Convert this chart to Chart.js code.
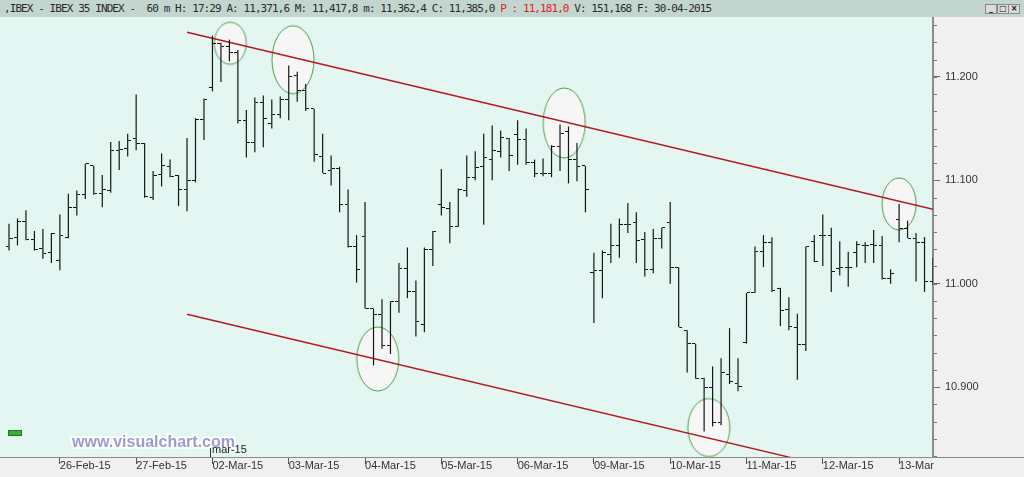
<!DOCTYPE html>
<html>
<head>
<meta charset="utf-8">
<script src="https://cdn.jsdelivr.net/npm/chart.js@4.4.1/dist/chart.umd.min.js"></script>
<style>
html, body { margin: 0; padding: 0; background: #f0f0f0; }
#wrap { position: relative; width: 1024px; height: 477px; overflow: hidden; }
#head { position: absolute; left: 0; top: 0; width: 1024px; height: 17px; background: #c2d5cf;
  font: 11px "DejaVu Sans Mono", monospace; letter-spacing: -0.92px; color: #2a2a2a; line-height: 17px; white-space: pre; }
#head .t { position: absolute; left: 4px; top: 0; }
#head .p { color: #e02020; }
.btn { position: absolute; top: 4px; width: 10px; height: 8px; border: 1px solid #8a8a8a; background: #dcdcdc;
  font: bold 8px/8px "DejaVu Sans", sans-serif; text-align: center; color: #111; letter-spacing: 0; }
#chart { position: absolute; left: 0; top: 17px; }
</style>
</head>
<body>
<div id="wrap">
  <div id="head"><span class="t">,IBEX - IBEX 35 INDEX -  60 m H: 17:29 A: 11,371,6 M: 11,417,8 m: 11,362,4 C: 11,385,0 <span class="p">P : 11,181,0</span> V: 151,168 F: 30-04-2015</span>
    <div class="btn" style="left:985px">_</div>
    <div class="btn" style="left:997px">□</div>
    <div class="btn" style="left:1008px">×</div>
  </div>
  <canvas id="chart" width="1024" height="460"></canvas>
</div>
<script>
// hourly bars, 25-Feb (last 6 hours) to 13-Mar (first 5 hours)
var opens  = [11036,11045,11060,11043,11034,11030,11022,11045,11074,11086,
              11114,11087,11090,11129,11131,11140,11136,11083,11106,11113,
              11105,11091,11100,11159,11190,11232,11229,11224,11158,11137,
              11175,11155,11164,11178,11201,11187,11169,11123,11109,11111,
              11077,11036,11046,10976,10970,10940,10983,11015,10992,10961,
              11033,11077,11073,11055,11090,11103,11113,11120,11128,11140,
              11144,11139,11117,11107,11107,11133,11147,11120,11114,11011,
              11013,11028,11037,11057,11059,11043,11014,11044,11059,11016,
              10955,10942,10908,10900,10866,10912,10903,10943,10991,11031,
              11040,10995,10975,10958,10941,11041,11047,11047,11015,11016,
              11030,11037,11038,11037,11005,11062,11053,11044,11040,11002];
var highs  = [11058,11063,11071,11051,11053,11049,11067,11087,11090,11116,
              11114,11105,11137,11138,11145,11183,11136,11109,11126,11120,
              11105,11141,11160,11179,11240,11233,11236,11226,11168,11180,
              11182,11178,11181,11211,11205,11193,11169,11145,11124,11113,
              11091,11047,11079,10976,10985,10983,11020,11035,11003,11035,
              11051,11111,11079,11092,11124,11128,11145,11153,11148,11141,
              11158,11150,11120,11121,11134,11154,11152,11136,11114,11030,
              11032,11058,11063,11078,11069,11050,11053,11054,11079,11016,
              10955,10942,10909,10920,10928,10957,10928,10991,11036,11047,
              11045,10996,10987,10971,11036,11047,11067,11054,11041,11031,
              11041,11040,11052,11046,11014,11077,11061,11049,11045,11025];
var lows   = [11032,11037,11042,11032,11024,11020,11013,11044,11066,11082,
              11086,11074,11088,11110,11123,11129,11083,11081,11094,11103,
              11075,11070,11098,11139,11186,11195,11215,11155,11122,11127,
              11132,11150,11160,11158,11176,11167,11118,11107,11095,11069,
              11035,11001,10976,10921,10937,10932,10972,10986,10949,10953,
              11017,11066,11039,11055,11084,11100,11057,11100,11122,11109,
              11115,11115,11103,11104,11103,11109,11097,11099,11069,10962,
              10986,11020,11025,11049,11020,11007,11010,11034,11000,10958,
              10914,10908,10857,10862,10863,10903,10896,10942,10991,11016,
              10992,10959,10955,10907,10935,11021,11017,10992,11008,10997,
              11016,11020,11020,11004,11000,11040,11044,11002,10992,10999];
var closes = [11044,11060,11043,11033,11029,11049,11047,11074,11086,11116,
              11087,11091,11129,11130,11138,11136,11084,11105,11114,11104,
              11091,11100,11159,11178,11232,11229,11224,11158,11137,11175,
              11160,11164,11178,11200,11187,11169,11125,11107,11111,11077,
              11036,11014,10976,10970,10940,10983,11015,10992,10963,11033,
              11050,11074,11055,11091,11103,11112,11122,11129,11141,11124,
              11139,11117,11107,11107,11133,11145,11120,11113,11091,11013,
              11030,11037,11057,11057,11042,11014,11044,11054,11016,10958,
              10942,10908,10900,10866,10914,10905,10901,10991,11031,11040,
              10993,10974,10959,10941,11036,11021,11047,11012,11016,11016,
              11038,11037,11037,11005,11010,11053,11044,11040,11002,11000];

var dayLabels = ['26-Feb-15','27-Feb-15','02-Mar-15','03-Mar-15','04-Mar-15','05-Mar-15',
                 '06-Mar-15','09-Mar-15','10-Mar-15','11-Mar-15','12-Mar-15','13-Mar-15'];
var dayStart  = [6,15,24,33,42,51,60,69,78,87,96,105];
var yTicks    = [10900,11000,11100,11200];
var monthMark = { label: 'mar-15', at: 24 };

// drawn channel lines and highlight ellipses, in bar index / price
var upperLine = [[21,11243.1],[109,11071.9]];
var lowerLine = [[21,10970.4],[109,10799.2]];
var marks     = [[26.1,11232.5],[33.5,11216.6],[43.5,10927.2],[65.5,11155.4],[82.55,10860.9],[105.0,11077.1]];
var markSize  = [[16,21],[21,34],[21,32],[21,35],[21,29],[17,26]];

function tickImg(left) {
  var c = document.createElement('canvas');
  c.width = 7; c.height = 1;
  var g = c.getContext('2d');
  g.fillStyle = '#111';
  g.fillRect(left ? 0 : 4, 0, 3, 1);
  return c;
}
function ellImg(rx, ry) {
  var c = document.createElement('canvas');
  c.width = 2 * rx + 4; c.height = 2 * ry + 4;
  var g = c.getContext('2d');
  g.beginPath();
  g.ellipse(c.width / 2, c.height / 2, rx, ry, 0, 0, Math.PI * 2);
  g.fillStyle = '#f6f6f6'; g.fill();
  g.strokeStyle = '#4e9e4e'; g.lineWidth = 1; g.stroke();
  return c;
}
var openImg = tickImg(true), closeImg = tickImg(false);
var ellImgs = markSize.map(function (s) { return ellImg(s[0], s[1]); });

var FONT = { family: 'Liberation Sans', size: 11 };

function noPad(s) {
  s.paddingTop = 0; s.paddingBottom = 0; s.paddingLeft = 0; s.paddingRight = 0;
}

var decor = {
  id: 'decor',
  beforeDraw: function (c) {
    var ctx = c.ctx, a = c.chartArea;
    ctx.save();
    ctx.fillStyle = '#f0f0f0';
    ctx.fillRect(0, 0, c.width, c.height);
    ctx.fillStyle = '#e3f6f1';
    ctx.fillRect(a.left, a.top, a.right - a.left, a.bottom - a.top);
    ctx.restore();
  },
  afterDatasetsDraw: function (c) {
    var ctx = c.ctx, a = c.chartArea;
    ctx.save();
    // small green tag
    ctx.fillStyle = '#2fb52f';
    ctx.fillRect(8.5, 413.5, 13, 5);
    ctx.strokeStyle = '#1b7a1b'; ctx.lineWidth = 1;
    ctx.strokeRect(8.5, 413.5, 13, 5);
    // watermark
    ctx.font = 'bold 16px "Liberation Sans", sans-serif';
    ctx.textBaseline = 'alphabetic';
    ctx.lineJoin = 'round';
    ctx.strokeStyle = '#ffffff'; ctx.lineWidth = 4;
    ctx.strokeText('www.visualchart.com', 72, 430);
    ctx.fillStyle = '#9c9cd2';
    ctx.fillText('www.visualchart.com', 72, 430);
    // month marker
    var mx = Math.round(c.scales.x.getPixelForValue(monthMark.at)) - 1.5;
    ctx.strokeStyle = '#333'; ctx.lineWidth = 1;
    ctx.beginPath(); ctx.moveTo(mx, 431); ctx.lineTo(mx, a.bottom); ctx.stroke();
    ctx.font = '11px "Liberation Sans", sans-serif';
    ctx.fillStyle = '#222';
    ctx.fillText(monthMark.label, mx + 1.5, 436);
    ctx.restore();
  },
  afterDraw: function (c) {
    var ctx = c.ctx, a = c.chartArea, y = c.scales.y;
    ctx.save();
    ctx.fillStyle = '#f0f0f0';
    ctx.fillRect(a.right + 1, a.bottom + 1, c.width - a.right, c.height - a.bottom);
    ctx.strokeStyle = '#8c8c8c'; ctx.lineWidth = 1;
    ctx.beginPath(); ctx.moveTo(0, a.bottom + 0.5); ctx.lineTo(c.width, a.bottom + 0.5); ctx.stroke();
    // minor ticks on the price axis
    ctx.strokeStyle = '#777';
    var step = 100 / 6;
    for (var v = Math.ceil(y.min / step) * step; v <= y.max; v += step) {
      var py = Math.round(y.getPixelForValue(v)) + 0.5;
      ctx.beginPath(); ctx.moveTo(a.right + 1, py); ctx.lineTo(a.right + 4, py); ctx.stroke();
    }
    ctx.restore();
  }
};

new Chart(document.getElementById('chart'), {
  type: 'bar',
  data: {
    datasets: [
      { type: 'bar', order: 1, clip: 0,
        data: highs.map(function (h, k) { return { x: k, y: [lows[k], h] }; }),
        backgroundColor: '#151515', borderWidth: 0, barThickness: 1.2, inflateAmount: 0 },
      { type: 'scatter', order: 1, clip: 0,
        data: opens.map(function (v, k) { return { x: k, y: v }; }),
        pointStyle: openImg, pointRadius: 3 },
      { type: 'scatter', order: 1, clip: 0,
        data: closes.map(function (v, k) { return { x: k, y: v }; }),
        pointStyle: closeImg, pointRadius: 3 },
      { type: 'line', order: 2, clip: 0,
        data: upperLine.map(function (p) { return { x: p[0], y: p[1] }; }),
        borderColor: '#b3191f', borderWidth: 1.4, pointRadius: 0 },
      { type: 'line', order: 2, clip: 0,
        data: lowerLine.map(function (p) { return { x: p[0], y: p[1] }; }),
        borderColor: '#b3191f', borderWidth: 1.4, pointRadius: 0 },
      { type: 'scatter', order: 3, clip: 0,
        data: marks.map(function (p) { return { x: p[0], y: p[1] }; }),
        pointStyle: function (ctx) { return ellImgs[ctx.dataIndex]; }, pointRadius: 20 }
    ]
  },
  options: {
    responsive: false,
    animation: false,
    events: [],
    layout: { padding: 0, autoPadding: false },
    plugins: { legend: { display: false }, tooltip: { enabled: false } },
    scales: {
      x: {
        type: 'linear', min: -1.062, max: 109, offset: false,
        afterBuildTicks: function (s) { s.ticks = dayStart.map(function (v) { return { value: v }; }); },
        afterFit: function (s) { s.height = 20; noPad(s); },
        ticks: { callback: function (v, i) { return dayLabels[i]; }, align: 'start', autoSkip: false,
                 maxRotation: 0, padding: -5, font: FONT, color: '#333' },
        grid: { drawOnChartArea: false, offset: false, tickLength: 7, color: '#555' },
        border: { color: '#8c8c8c', width: 1 }
      },
      y: {
        position: 'right', min: 10832.4, max: 11257.9,
        afterBuildTicks: function (s) { s.ticks = yTicks.map(function (v) { return { value: v }; }); },
        afterFit: function (s) { s.width = 91; noPad(s); },
        ticks: { callback: function (v) { return (v / 1000).toFixed(3); }, padding: 5, font: FONT, color: '#333' },
        grid: { drawOnChartArea: false, tickLength: 7, color: '#666' },
        border: { color: '#8c8c8c', width: 2 }
      }
    }
  },
  plugins: [decor]
});
</script>
</body>
</html>
